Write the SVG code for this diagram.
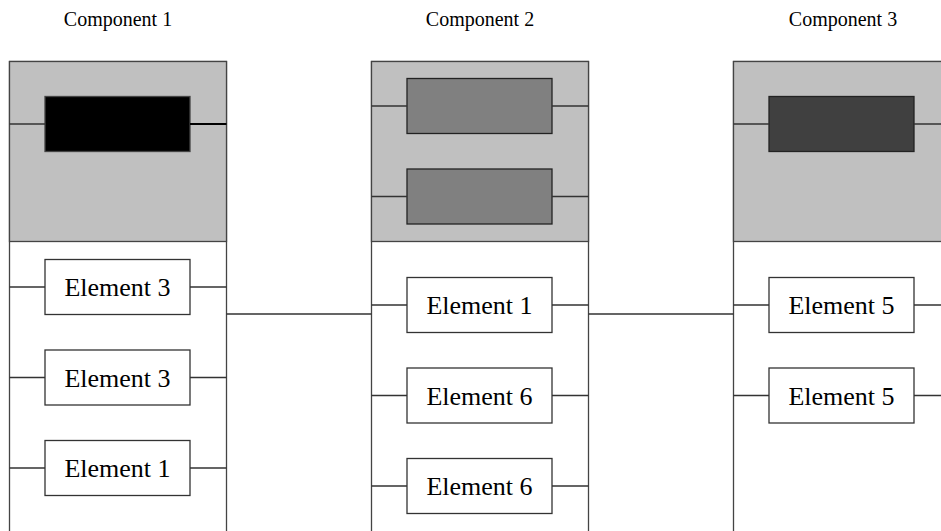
<svg xmlns="http://www.w3.org/2000/svg" width="941" height="531" viewBox="0 0 941 531">
  <style>
    .title { font-family: "Liberation Serif", "Times New Roman", serif; font-size: 20px; fill: #000; text-anchor: middle; }
    .label { font-family: "Liberation Serif", "Times New Roman", serif; font-size: 26px; fill: #000; text-anchor: middle; }
    .panel { fill: #fff; stroke: #444; stroke-width: 1.3; }
    .head { fill: #c0c0c0; stroke: #444; stroke-width: 1.3; }
    .box { fill: #fff; stroke: #333; stroke-width: 1.3; }
    .blk { fill: #000; stroke: #444; stroke-width: 1.3; }
    .mid { fill: #808080; stroke: #222; stroke-width: 1.3; }
    .dark { fill: #404040; stroke: #222; stroke-width: 1.3; }
    .wire { stroke: #333; stroke-width: 1.3; fill: none; }
    .wire-bold { stroke: #000; stroke-width: 2; fill: none; }
  </style>

  <rect x="0" y="0" width="941" height="531" fill="#fff"/>

  <!-- Component 1 -->
  <g id="component1">
    <text class="title" x="118" y="26">Component 1</text>
    <rect class="panel" x="9.5" y="61.5" width="217" height="480"/>
    <rect class="head" x="9.5" y="61.5" width="217" height="180"/>
    <g id="c1-core"><rect class="blk" x="45" y="96.5" width="145" height="55"/></g>
    <g id="c1-el-a"><rect class="box" x="45" y="259.5" width="145" height="55"/><text class="label" x="117.5" y="296">Element 3</text></g>
    <g id="c1-el-b"><rect class="box" x="45" y="350" width="145" height="55"/><text class="label" x="117.5" y="386.5">Element 3</text></g>
    <g id="c1-el-c"><rect class="box" x="45" y="440.5" width="145" height="55"/><text class="label" x="117.5" y="477">Element 1</text></g>
  </g>

  <!-- Component 2 -->
  <g id="component2">
    <text class="title" x="480" y="26">Component 2</text>
    <rect class="panel" x="371.5" y="61.5" width="217" height="480"/>
    <rect class="head" x="371.5" y="61.5" width="217" height="180"/>
    <g id="c2-core-a"><rect class="mid" x="407" y="78.5" width="145" height="55"/></g>
    <g id="c2-core-b"><rect class="mid" x="407" y="169" width="145" height="55"/></g>
    <g id="c2-el-a"><rect class="box" x="407" y="277.5" width="145" height="55"/><text class="label" x="479.5" y="314">Element 1</text></g>
    <g id="c2-el-b"><rect class="box" x="407" y="368" width="145" height="55"/><text class="label" x="479.5" y="404.5">Element 6</text></g>
    <g id="c2-el-c"><rect class="box" x="407" y="458.5" width="145" height="55"/><text class="label" x="479.5" y="495">Element 6</text></g>
  </g>

  <!-- Component 3 -->
  <g id="component3">
    <text class="title" x="843" y="26">Component 3</text>
    <rect class="panel" x="733.5" y="61.5" width="260" height="480"/>
    <rect class="head" x="733.5" y="61.5" width="260" height="180"/>
    <g id="c3-core"><rect class="dark" x="769" y="96.5" width="145" height="55"/></g>
    <g id="c3-el-a"><rect class="box" x="769" y="277.5" width="145" height="55"/><text class="label" x="841.5" y="314">Element 5</text></g>
    <g id="c3-el-b"><rect class="box" x="769" y="368" width="145" height="55"/><text class="label" x="841.5" y="404.5">Element 5</text></g>
  </g>

  <!-- Wiring: stubs from each box to its panel walls, plus links between panels -->
  <g id="connectors">
    <path class="wire" d="M9.5 124H45 M9.5 287H45 M190 287H226.5 M9.5 377.5H45 M190 377.5H226.5 M9.5 468H45 M190 468H226.5"/>
    <path class="wire-bold" d="M190 124H226.5"/>
    <path class="wire" d="M371.5 106H407 M552 106H588.5 M371.5 196.5H407 M552 196.5H588.5 M371.5 305H407 M552 305H588.5 M371.5 395.5H407 M552 395.5H588.5 M371.5 486H407 M552 486H588.5"/>
    <path class="wire" d="M733.5 124H769 M914 124H941 M733.5 305H769 M914 305H941 M733.5 395.5H769 M914 395.5H941"/>
    <path class="wire" d="M226.5 314H371.5 M588.5 314H733.5"/>
  </g>
</svg>
